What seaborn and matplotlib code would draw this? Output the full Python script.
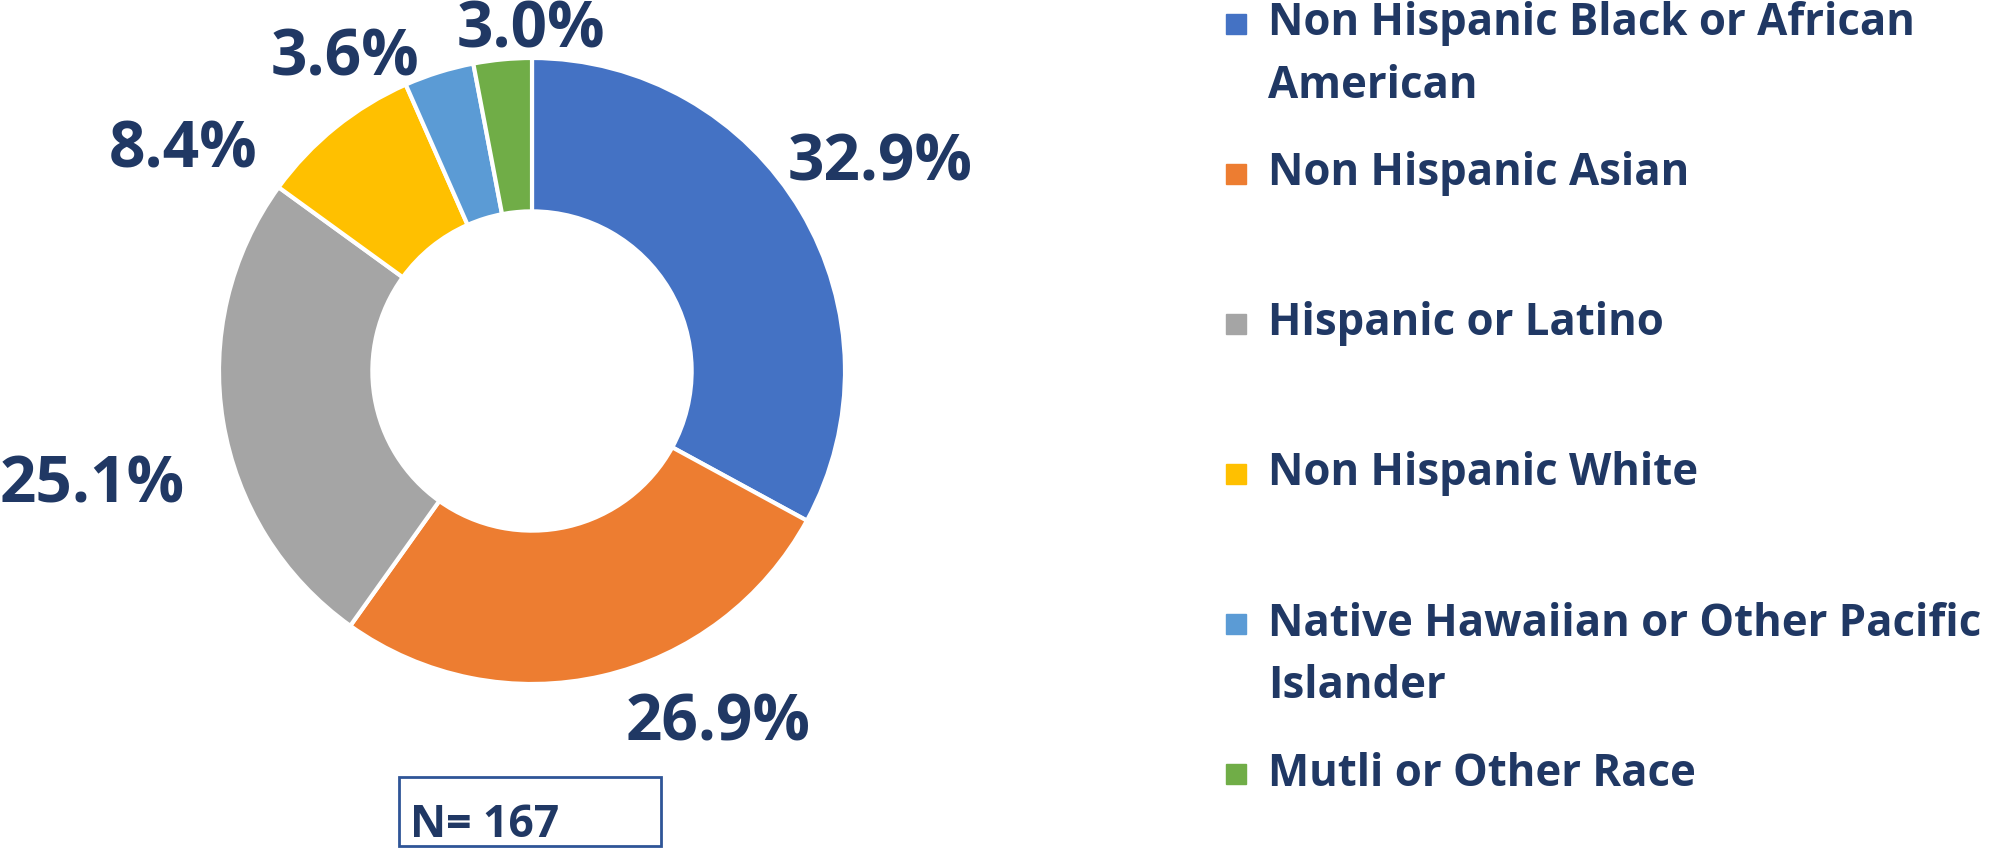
import matplotlib.pyplot as plt
import seaborn as sns
from matplotlib.patches import Rectangle

# race / ethnicity breakdown, N = 167
groups = ["Non Hispanic Black or African\nAmerican",
          "Non Hispanic Asian",
          "Hispanic or Latino",
          "Non Hispanic White",
          "Native Hawaiian or Other Pacific\nIslander",
          "Mutli or Other Race"]
shares = [32.9, 26.9, 25.1, 8.4, 3.6, 3.0]
pct_labels = ["32.9%", "26.9%", "25.1%", "8.4%", "3.6%", "3.0%"]
n_label = "N= 167"

# label offsets from the centre, in radius units
label_pos = [(1.113, 0.662), (0.594, -1.128), (-1.406, -0.368),
             (-1.115, 0.702), (-0.597, 0.998), (-0.003, 1.085)]

sns.set_theme(style="white")
plt.rcParams['font.family'] = ['Open Sans', 'DejaVu Sans']

palette = sns.color_palette(["#4472C4", "#ED7D31", "#A5A5A5",
                             "#FFC000", "#5B9BD5", "#70AD47"])
navy = "#203864"

W, H = 1998, 850
fig = plt.figure(figsize=(W / 100, H / 100), dpi=100)

# donut centred at (532, 371) px, radius 313 px
cx, cy, r = 532, 371, 313
ax = fig.add_axes([(cx - r) / W, (H - cy - r) / H, 2 * r / W, 2 * r / H])
ax.pie(shares, colors=palette, startangle=90, counterclock=False, radius=1,
       wedgeprops=dict(width=0.49, edgecolor="white", linewidth=3))
ax.set_xlim(-1, 1)
ax.set_ylim(-1, 1)
ax.set_aspect("equal")

for txt, (lx, ly) in zip(pct_labels, label_pos):
    ax.text(lx, ly, txt, ha="center", va="center", fontsize=46,
            fontweight="bold", color=navy, clip_on=False)

# legend drawn by hand to keep the Excel spacing
row_top, row_step, line_gap = 24, 150, 62
for i, (lab, col) in enumerate(zip(groups, palette)):
    yc = row_top + i * row_step
    fig.patches.append(Rectangle((1226 / W, 1 - (yc + 10) / H), 20 / W, 20 / H,
                                 transform=fig.transFigure, color=col))
    for k, line in enumerate(lab.split("\n")):
        fig.text(1268 / W, 1 - (yc + k * line_gap) / H, line, ha="left",
                 va="center", fontsize=31.5, fontweight="bold", color=navy)

# N box
fig.patches.append(Rectangle((399 / W, 1 - 846 / H), 262 / W, 69 / H,
                             transform=fig.transFigure, fill=False,
                             edgecolor="#2F5597", linewidth=2))
fig.text(410 / W, 1 - 837 / H, n_label, ha="left", va="baseline",
         fontsize=32, fontweight="bold", color=navy)

fig.savefig("out.png", dpi=100)
